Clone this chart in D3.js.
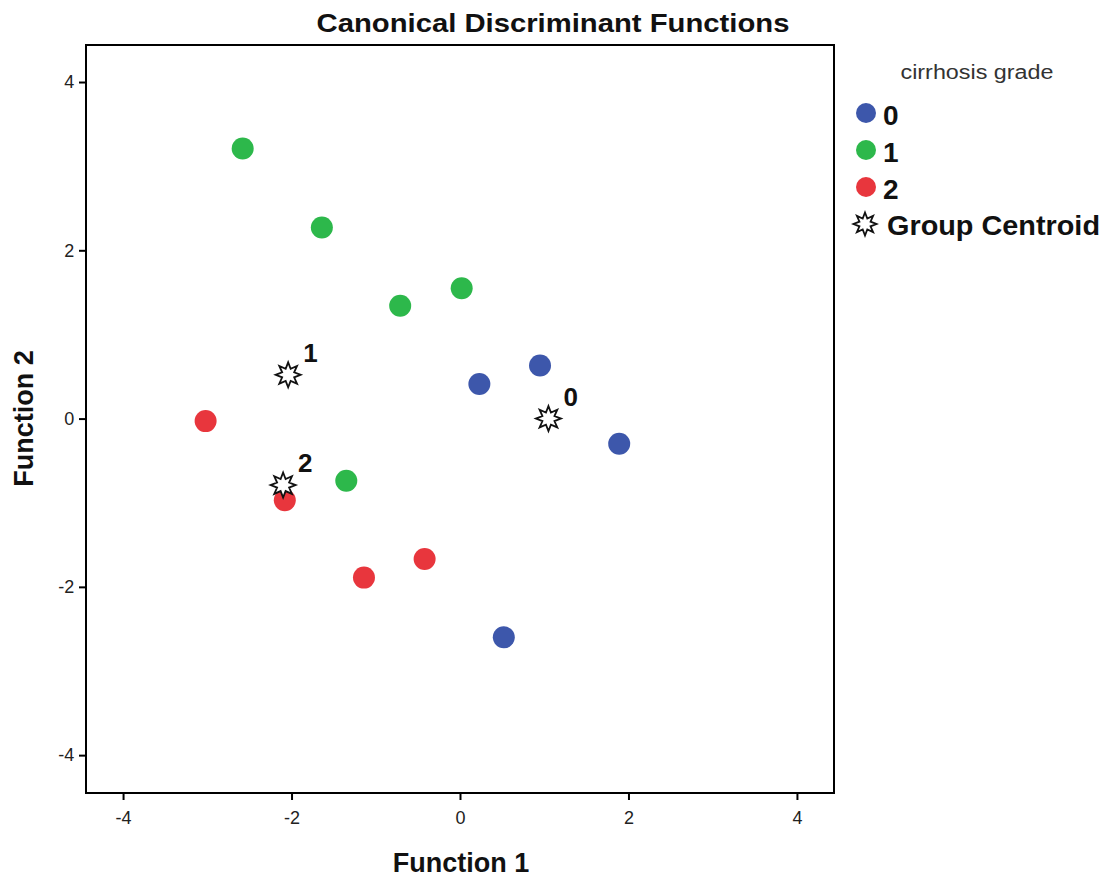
<!DOCTYPE html>
<html>
<head>
<meta charset="utf-8">
<script src="https://cdn.jsdelivr.net/npm/d3@7"></script>
<style>
  body { margin: 0; background: #fff; }
  text { font-family: "Liberation Sans", Arial, sans-serif; }
</style>
</head>
<body>
<div class="chart"></div>
<script>
// data
var groups = ["0", "1", "2"];
var groupColors = ["#3d57ab", "#2db84b", "#e8363d"];

var group0X = [0.95, 0.23, 1.89, 0.52];
var group0Y = [0.63, 0.41, -0.30, -2.60];
var group1X = [-2.58, -1.64, -0.71, 0.02, -1.35];
var group1Y = [3.21, 2.27, 1.34, 1.55, -0.74];
var group2X = [-3.02, -2.08, -1.14, -0.42];
var group2Y = [-0.03, -0.97, -1.89, -1.67];

var centroidX = [1.05, -2.04, -2.10];
var centroidY = [0.00, 0.52, -0.79];

var tickVals = [-4, -2, 0, 2, 4];

// set up chart
var svgWidth = 1110;
var svgHeight = 879;
var margin = { top: 45, left: 86 };
var width = 748;
var height = 748;

var svg = d3.select(".chart")
    .append("svg")
    .attr("width", svgWidth)
    .attr("height", svgHeight);

var chart = svg.append("g")
    .attr("transform", `translate(${margin.left},${margin.top})`);

var xScale = d3.scaleLinear().domain([-4.44, 4.44]).range([0, width]);
var yScale = d3.scaleLinear().domain([-4.45, 4.44]).range([height, 0]);

var xAxis = d3.axisBottom(xScale).tickValues(tickVals).tickSize(7).tickSizeOuter(0).tickFormat(d => String(d));
var yAxis = d3.axisLeft(yScale).tickValues(tickVals).tickSize(7).tickSizeOuter(0).tickFormat(d => String(d));

chart.append("g")
    .attr("class", "x-axis")
    .attr("transform", `translate(0,${height})`)
    .call(xAxis);

chart.append("g")
    .attr("class", "y-axis")
    .call(yAxis);

chart.selectAll(".domain").remove();
chart.selectAll(".tick line").attr("stroke", "#000").attr("stroke-width", 2);
chart.selectAll(".tick text")
    .attr("font-size", "18px")
    .attr("fill", "#222")
    .attr("font-family", "Liberation Sans, Arial, sans-serif");
chart.selectAll(".x-axis .tick text").attr("dy", "1.15em");
chart.selectAll(".y-axis .tick text").attr("dx", "-0.1em");

// frame
chart.append("rect")
    .attr("width", width)
    .attr("height", height)
    .attr("fill", "none")
    .attr("stroke", "#000")
    .attr("stroke-width", 2);

// points
var points = [];
[[group0X, group0Y], [group1X, group1Y], [group2X, group2Y]].forEach(function (g, gi) {
    g[0].forEach(function (x, i) {
        points.push({ x: x, y: g[1][i], g: gi });
    });
});

chart.selectAll("circle.pt")
    .data(points)
    .enter()
    .append("circle")
    .attr("class", "pt")
    .attr("cx", d => xScale(d.x))
    .attr("cy", d => yScale(d.y))
    .attr("r", 11)
    .attr("fill", d => groupColors[d.g]);

// 8 point star
function starPath(ro, ri) {
    var pts = [];
    for (var i = 0; i < 16; i++) {
        var r = i % 2 === 0 ? ro : ri;
        var a = -Math.PI / 2 + i * Math.PI / 8;
        pts.push([r * Math.cos(a), r * Math.sin(a)]);
    }
    return "M" + pts.map(p => p[0].toFixed(2) + "," + p[1].toFixed(2)).join("L") + "Z";
}

var centroids = centroidX.map((x, i) => ({ x: x, y: centroidY[i], label: groups[i] }));

chart.selectAll("path.star")
    .data(centroids)
    .enter()
    .append("path")
    .attr("class", "star")
    .attr("d", starPath(12.5, 6.5))
    .attr("transform", d => `translate(${xScale(d.x)},${yScale(d.y)})`)
    .attr("fill", "#fff")
    .attr("stroke", "#111")
    .attr("stroke-width", 1.8);

chart.selectAll("text.clabel")
    .data(centroids)
    .enter()
    .append("text")
    .attr("class", "clabel")
    .attr("x", d => xScale(d.x) + 15)
    .attr("y", d => yScale(d.y) - 13)
    .attr("font-size", "26px")
    .attr("font-weight", "bold")
    .attr("fill", "#111")
    .text(d => d.label);

// title and axis labels
svg.append("text")
    .attr("x", 553)
    .attr("y", 32)
    .attr("text-anchor", "middle")
    .attr("font-size", "26px")
    .attr("font-weight", "bold")
    .attr("fill", "#111")
    .attr("textLength", 473)
    .attr("lengthAdjust", "spacingAndGlyphs")
    .text("Canonical Discriminant Functions");

svg.append("text")
    .attr("x", margin.left + xScale(0) + 1)
    .attr("y", 872)
    .attr("text-anchor", "middle")
    .attr("font-size", "27px")
    .attr("font-weight", "bold")
    .attr("fill", "#111")
    .text("Function 1");

svg.append("text")
    .attr("transform", `translate(33,${margin.top + yScale(0)}) rotate(-90)`)
    .attr("text-anchor", "middle")
    .attr("font-size", "27px")
    .attr("font-weight", "bold")
    .attr("fill", "#111")
    .text("Function 2");

// legend
var legend = svg.append("g").attr("class", "legend");

legend.append("text")
    .attr("x", 977)
    .attr("y", 79)
    .attr("text-anchor", "middle")
    .attr("font-size", "20px")
    .attr("fill", "#333")
    .attr("textLength", 153)
    .attr("lengthAdjust", "spacingAndGlyphs")
    .text("cirrhosis grade");

groups.forEach(function (g, i) {
    legend.append("circle")
        .attr("cx", 866)
        .attr("cy", 113 + i * 37)
        .attr("r", 10)
        .attr("fill", groupColors[i]);
    legend.append("text")
        .attr("x", 883)
        .attr("y", 125 + i * 37)
        .attr("font-size", "28px")
        .attr("font-weight", "bold")
        .attr("fill", "#111")
        .text(g);
});

legend.append("path")
    .attr("d", starPath(11.5, 6))
    .attr("transform", "translate(865,224)")
    .attr("fill", "#fff")
    .attr("stroke", "#111")
    .attr("stroke-width", 1.8);

legend.append("text")
    .attr("x", 887)
    .attr("y", 235)
    .attr("font-size", "28px")
    .attr("font-weight", "bold")
    .attr("fill", "#111")
    .attr("textLength", 213)
    .attr("lengthAdjust", "spacingAndGlyphs")
    .text("Group Centroid");
</script>
</body>
</html>
